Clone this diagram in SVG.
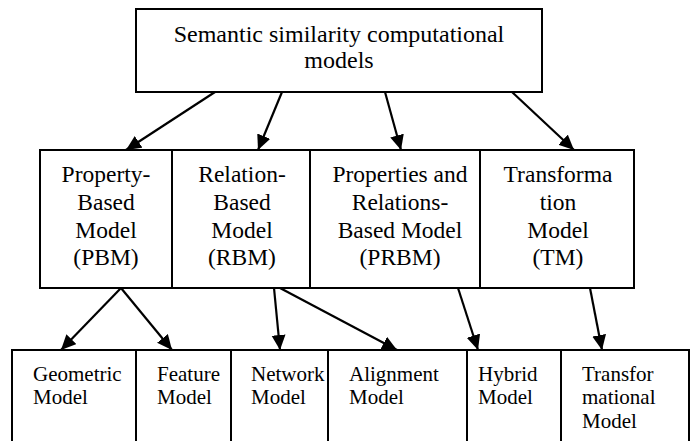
<svg xmlns="http://www.w3.org/2000/svg" width="691" height="441" viewBox="0 0 691 441" font-family="Liberation Serif, Times New Roman, serif">
<style>
.box{fill:#fff;stroke:#000;stroke-width:2}
text{font-family:'Liberation Serif','Times New Roman',Times,serif;fill:#000}
.top{font-size:24px;text-anchor:middle}
.mid{font-size:23.5px;text-anchor:middle}
.bot{font-size:21px}
.c{stroke:#000;stroke-width:2.2;fill:none;marker-end:url(#ah)}
</style>
<defs>
<marker id="ah" markerUnits="userSpaceOnUse" markerWidth="16" markerHeight="16" refX="15" refY="7" orient="auto">
<path d="M0,0 L15,7 L0,14 Z" fill="#000"/>
</marker>
</defs>
<rect width="691" height="441" fill="#fff"/>
<g id="root">
<rect class="box" x="136" y="9" width="406" height="83"/>
<text class="top" x="339" y="42">Semantic similarity computational</text>
<text class="top" x="339" y="68">models</text>
</g>
<g id="pbm">
<rect class="box" x="40" y="150" width="132" height="138"/>
<text class="mid" x="106" y="182">Property-</text>
<text class="mid" x="106" y="210">Based</text>
<text class="mid" x="106" y="238">Model</text>
<text class="mid" x="106" y="265">(PBM)</text>
</g>
<g id="rbm">
<rect class="box" x="172" y="150" width="138" height="138"/>
<text class="mid" x="242" y="182">Relation-</text>
<text class="mid" x="242" y="210">Based</text>
<text class="mid" x="242" y="238">Model</text>
<text class="mid" x="242" y="265">(RBM)</text>
</g>
<g id="prbm">
<rect class="box" x="310" y="150" width="170" height="138"/>
<text class="mid" x="400" y="182">Properties and</text>
<text class="mid" x="400" y="210">Relations-</text>
<text class="mid" x="400" y="238">Based Model</text>
<text class="mid" x="400" y="265">(PRBM)</text>
</g>
<g id="tm">
<rect class="box" x="480" y="150" width="154" height="138"/>
<text class="mid" x="558" y="182">Transforma</text>
<text class="mid" x="558" y="210">tion</text>
<text class="mid" x="558" y="238">Model</text>
<text class="mid" x="558" y="265">(TM)</text>
</g>
<g id="geometric">
<rect class="box" x="12" y="350" width="124" height="100"/>
<text class="bot" x="33" y="381">Geometric</text>
<text class="bot" x="33" y="404">Model</text>
</g>
<g id="feature">
<rect class="box" x="136" y="350" width="95" height="100"/>
<text class="bot" x="157" y="381">Feature</text>
<text class="bot" x="157" y="404">Model</text>
</g>
<g id="network">
<rect class="box" x="231" y="350" width="97" height="100"/>
<text class="bot" x="251" y="381">Network</text>
<text class="bot" x="251" y="404">Model</text>
</g>
<g id="alignment">
<rect class="box" x="328" y="350" width="139" height="100"/>
<text class="bot" x="349" y="381">Alignment</text>
<text class="bot" x="349" y="404">Model</text>
</g>
<g id="hybrid">
<rect class="box" x="467" y="350" width="94" height="100"/>
<text class="bot" x="478" y="381">Hybrid</text>
<text class="bot" x="478" y="404">Model</text>
</g>
<g id="transformational">
<rect class="box" x="561" y="350" width="128" height="100"/>
<text class="bot" x="582" y="381">Transfor</text>
<text class="bot" x="582" y="404">mational</text>
<text class="bot" x="582" y="428">Model</text>
</g>
<g id="connectors">
<line class="c" x1="215" y1="92" x2="126" y2="150"/>
<line class="c" x1="282" y1="92" x2="258" y2="150"/>
<line class="c" x1="385" y1="92" x2="401" y2="150"/>
<line class="c" x1="512" y1="92" x2="574" y2="150"/>
<line class="c" x1="121" y1="288" x2="61" y2="350"/>
<line class="c" x1="121" y1="288" x2="172" y2="350"/>
<line class="c" x1="274" y1="288" x2="280" y2="350"/>
<line class="c" x1="280" y1="288" x2="397" y2="350"/>
<line class="c" x1="458" y1="288" x2="478" y2="350"/>
<line class="c" x1="590" y1="288" x2="602" y2="350"/>
</g>
</svg>
